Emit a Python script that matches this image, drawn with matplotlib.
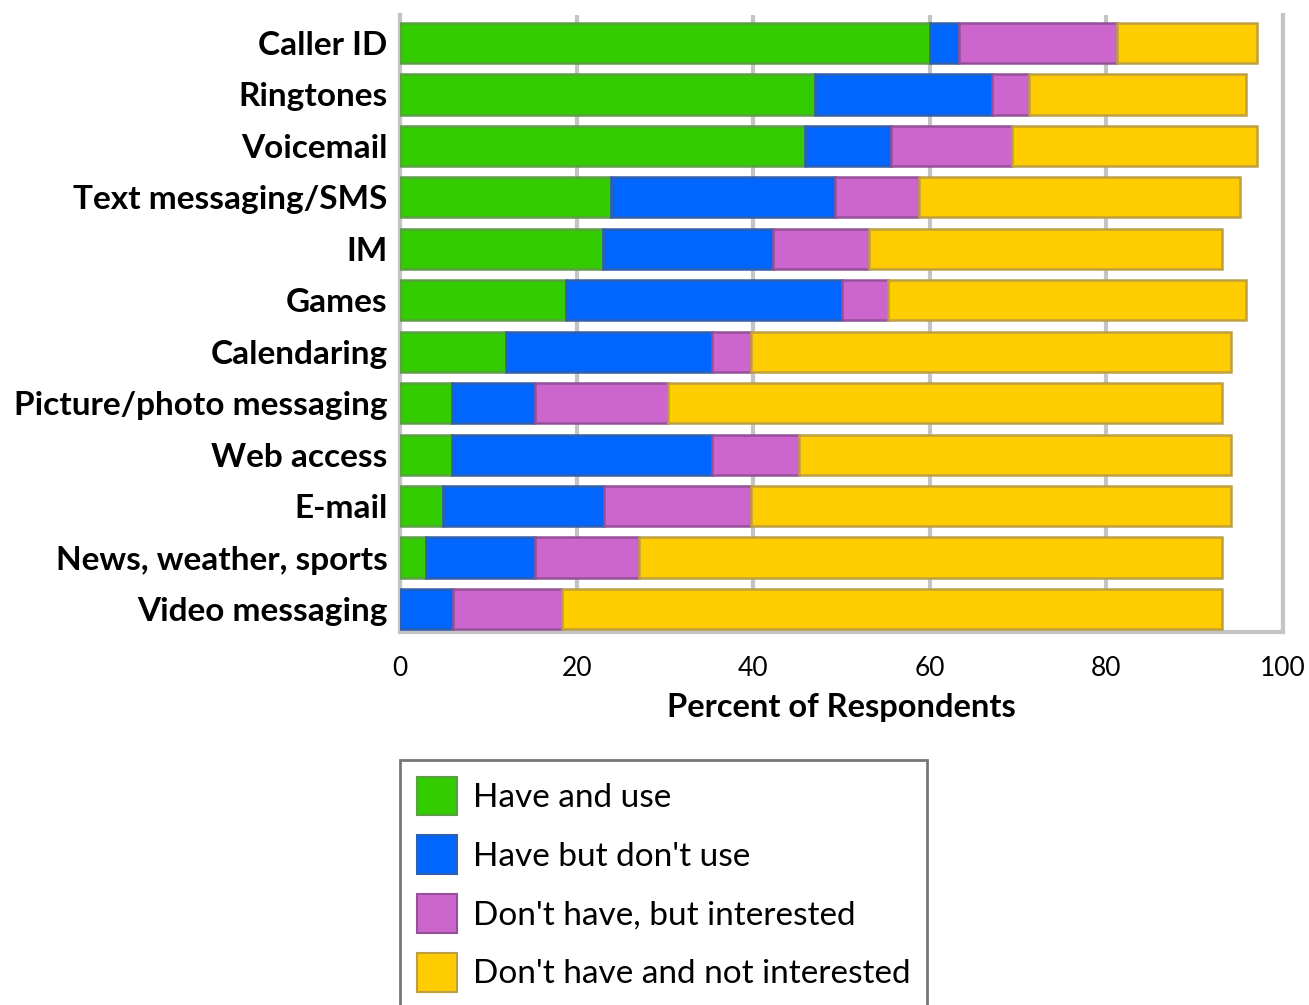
import matplotlib
matplotlib.use("Agg")
import matplotlib.pyplot as plt
from matplotlib.patches import Patch
import numpy as np

features = ["Caller ID", "Ringtones", "Voicemail", "Text messaging/SMS", "IM",
            "Games", "Calendaring", "Picture/photo messaging", "Web access",
            "E-mail", "News, weather, sports", "Video messaging"]

have_and_use = [60.0, 47.0, 45.9, 23.9, 23.0, 18.8, 12.0, 5.9, 5.9, 4.9, 2.9, 0.0]
have_dont_use = [3.3, 20.1, 9.7, 25.4, 19.2, 31.3, 23.3, 9.4, 29.4, 18.2, 12.4, 6.0]
dont_have_interested = [17.9, 4.1, 13.7, 9.5, 10.9, 5.2, 4.5, 15.0, 9.9, 16.7, 11.8, 12.4]
dont_have_not_interested = [15.8, 24.6, 27.7, 36.3, 40.0, 40.5, 54.3, 62.8, 48.9, 54.3, 66.0, 74.7]

series_labels = ["Have and use", "Have but don't use",
                 "Don't have, but interested", "Don't have and not interested"]
x_ticks = [0, 20, 40, 60, 80, 100]

fills = ["#33cc00", "#0066ff", "#cc66cc", "#ffcc00"]
edges = ["#5c9e45", "#2f5fae", "#96509a", "#bfa040"]

fig = plt.figure(figsize=(13.09, 10.05), dpi=100)
ax = fig.add_axes([400 / 1309, 1 - 632 / 1005, 883 / 1309, 617 / 1005])

y = np.arange(len(features))
left = np.zeros(len(features))
for vals, fc, ec in zip([have_and_use, have_dont_use, dont_have_interested,
                         dont_have_not_interested], fills, edges):
    vals = np.array(vals)
    ax.barh(y, vals, left=left, height=0.78, color=fc, edgecolor=ec,
            linewidth=1.8, zorder=3)
    left += vals

ax.set_xlim(0, 100)
ax.set_ylim(11.447, -0.544)
ax.set_yticks(y)
ax.set_yticklabels(features, fontsize=24, fontweight="bold", family="Lato")
ax.set_xticks(x_ticks)
ax.set_xticklabels([str(t) for t in x_ticks], fontsize=19, family="Lato")
ax.tick_params(axis="y", length=0, pad=9)
ax.tick_params(axis="x", length=0, pad=17)

for t in x_ticks:
    ax.axvline(t, color="#c4c4c4", lw=3, zorder=1)

ax.spines["top"].set_visible(False)
for side in ["left", "right", "bottom"]:
    ax.spines[side].set_color("#c4c4c4")
    ax.spines[side].set_linewidth(3)

ax.set_xlabel("Percent of Respondents", fontsize=23.5, fontweight="bold",
              family="Lato", labelpad=9)

handles = [Patch(facecolor=fc, edgecolor=ec, linewidth=1.5)
           for fc, ec in zip(fills, edges)]
leg = fig.legend(handles, series_labels, loc="upper left",
                 bbox_to_anchor=(400 / 1309, 1 - 760 / 1005),
                 prop={"family": "Lato", "size": 24}, frameon=True,
                 fancybox=False, handlelength=1.2, handleheight=1.41,
                 labelspacing=0.6, borderpad=0.5, handletextpad=0.48,
                 borderaxespad=0)
leg.get_frame().set_edgecolor("#555555")
leg.get_frame().set_linewidth(2)

fig.savefig("out.png", dpi=100)
